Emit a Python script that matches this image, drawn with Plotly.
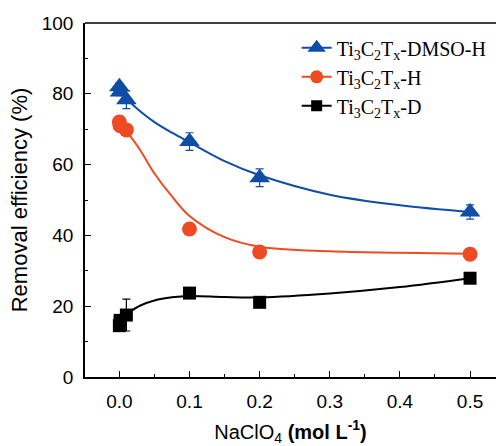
import plotly.graph_objects as go

# NaClO4 concentration (mol/L) for the measured points
conc = [0, 0.001, 0.01, 0.1, 0.2, 0.5]

# Removal efficiency (%) and error for each material
eff_dmso_h = [82.0, 80.5, 78.3, 66.5, 56.3, 46.6]
err_dmso_h = [1.0, 1.0, 2.5, 2.5, 2.5, 2.0]

eff_h = [72.0, 71.0, 69.8, 41.8, 35.3, 34.7]
err_h = [1.5, 1.0, 1.0, 0.8, 0.8, 0.8]

eff_d = [14.5, 16.0, 17.5, 23.7, 21.1, 27.9]
err_d = [1.5, 1.5, 4.5, 1.2, 1.0, 1.0]

# Smooth fitted trend lines
fit_conc = [0.01, 0.03, 0.05, 0.075, 0.1, 0.15, 0.2, 0.3, 0.4, 0.5]
fit_dmso_h = [78.5, 75.0, 72.0, 69.0, 66.3, 61.0, 57.0, 51.5, 48.5, 46.6]
fit_h = [69.5, 64.0, 57.5, 51.0, 45.5, 39.5, 36.8, 35.5, 35.1, 34.8]
fit_d = [17.8, 20.2, 21.6, 22.5, 22.9, 22.6, 22.5, 23.6, 25.4, 27.9]

x_ticks = [0.0, 0.1, 0.2, 0.3, 0.4, 0.5]
y_ticks = [0, 20, 40, 60, 80, 100]

series = [
    ("Ti<sub>3</sub>C<sub>2</sub>T<sub>x</sub>-DMSO-H", eff_dmso_h, err_dmso_h, fit_dmso_h,
     "#0f4da6", "triangle-up", 18),
    ("Ti<sub>3</sub>C<sub>2</sub>T<sub>x</sub>-H", eff_h, err_h, fit_h,
     "#ef4b22", "circle", 15),
    ("Ti<sub>3</sub>C<sub>2</sub>T<sub>x</sub>-D", eff_d, err_d, fit_d,
     "#000000", "square", 13),
]

fig = go.Figure()
for name, eff, err, fit, color, symbol, size in series:
    fig.add_trace(go.Scatter(
        x=fit_conc, y=fit, mode="lines", line=dict(color=color, width=2, shape="spline"),
        showlegend=False, hoverinfo="skip"))
    fig.add_trace(go.Scatter(
        x=conc, y=eff, mode="markers",
        marker=dict(symbol=symbol, size=size, color=color),
        error_y=dict(type="data", array=err, color=color, thickness=1.2, width=4),
        showlegend=False))
    # legend entry showing line and marker together
    fig.add_trace(go.Scatter(
        x=[None], y=[None], mode="lines+markers", name=name,
        line=dict(color=color, width=2),
        marker=dict(symbol=symbol, size=size - 2, color=color)))

axis_font = dict(family="Liberation Sans, Arial", size=19, color="#000")

fig.update_layout(
    width=496, height=446,
    margin=dict(l=85, r=0, t=23, b=69),
    plot_bgcolor="white", paper_bgcolor="white",
    showlegend=True,
    legend=dict(x=0.515, y=0.985, xanchor="left", yanchor="top",
                font=dict(family="Liberation Serif, Times New Roman", size=20, color="#000"),
                bgcolor="rgba(0,0,0,0)", tracegroupgap=0),
    xaxis=dict(
        range=[-0.049, 0.537], tickvals=x_ticks, ticktext=[f"{v:.1f}" for v in x_ticks],
        ticks="inside", ticklen=6, tickwidth=1.2, tickcolor="#000",
        minor=dict(dtick=0.05, tick0=0, ticks="inside", ticklen=3, tickcolor="#000"),
        showline=True, linecolor="#000", linewidth=1.5, showgrid=False, zeroline=False,
        tickfont=axis_font, ticklabelstandoff=6,
        title=dict(text="NaClO<sub>4</sub> <b>(mol L<sup>-1</sup>)</b>",
                   font=dict(family="Liberation Sans, Arial", size=20, color="#000"),
                   standoff=14),
    ),
    yaxis=dict(
        range=[0, 100], tickvals=y_ticks,
        ticks="inside", ticklen=6, tickwidth=1.2, tickcolor="#000",
        minor=dict(dtick=10, tick0=0, ticks="inside", ticklen=3, tickcolor="#000"),
        showline=True, linecolor="#000", linewidth=1.5, showgrid=False, zeroline=False,
        tickfont=axis_font, ticklabelstandoff=6,
        title=dict(text="Removal efficiency (%)",
                   font=dict(family="Liberation Sans, Arial", size=22, color="#000"),
                   standoff=8),
    ),
)

# top frame edge
fig.add_shape(type="line", xref="paper", yref="paper", x0=0, x1=1, y0=1, y1=1,
              line=dict(color="#000", width=1.5))

fig.write_html("out.html")
